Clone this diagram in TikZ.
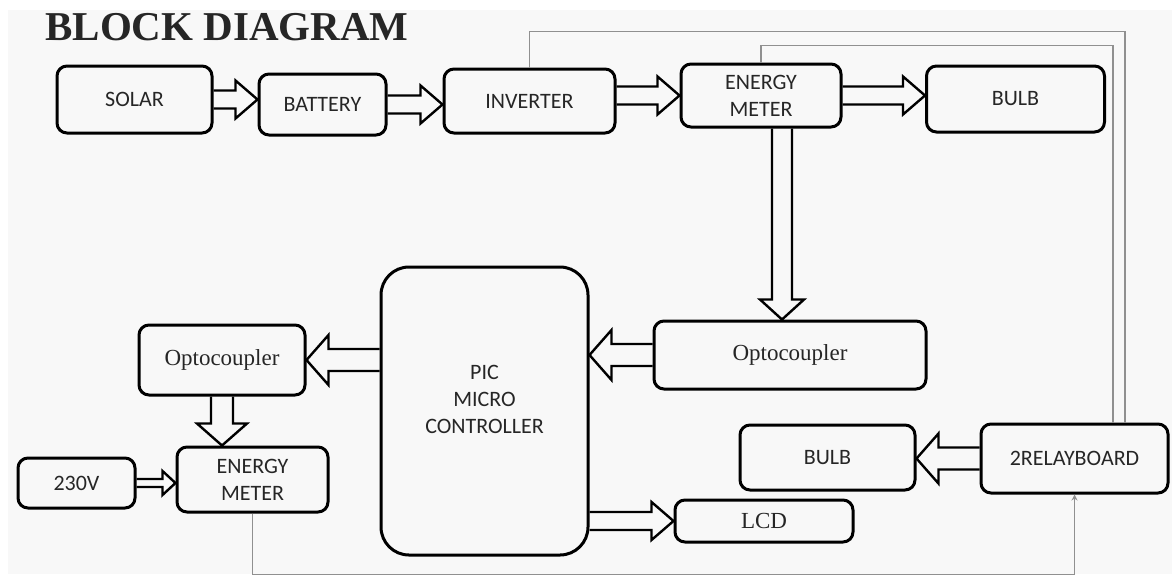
\documentclass[tikz,border=0pt]{standalone}
\usepackage{fontspec}
\setmainfont{Liberation Serif}
\newfontfamily\boxfont{Carlito}
\usepackage{tikz}
\usetikzlibrary{arrows.meta, calc}
\definecolor{paper}{HTML}{F8F8F8}
\definecolor{wire}{HTML}{909090}

\begin{document}
\begin{tikzpicture}[
  x=0.5pt, y=-0.5pt,
  every node/.style={text=black!85},
  blk/.style={draw, line width=1.5pt, rounded corners=5pt, inner sep=0pt, align=center,
    font=\boxfont\fontsize{11}{13.5}\selectfont},
  serif/.style={font=\fontsize{11.5}{13.5}\selectfont},
  hollow/.style args={#1/#2/#3}{line width=1.2pt, line join=miter, to path={
    let \p1=(\tikztostart), \p2=(\tikztotarget),
        \n1={veclen(\x2-\x1,\y2-\y1)}, \n2={atan2(\y2-\y1,\x2-\x1)} in
    {[shift={(\p1)}, rotate=\n2]
      (0pt,#1) -- (\n1*1pt-#3,#1) -- (\n1*1pt-#3,#2) -- (\n1*1pt,0pt)
      -- (\n1*1pt-#3,-#2) -- (\n1*1pt-#3,-#1) -- (0pt,-#1)}
  }},
  toparr/.style={hollow=4.5pt/9.5pt/11pt},
  bigarr/.style={hollow=5.5pt/12.5pt/11pt},
  smallarr/.style={hollow=2pt/6pt/6.5pt},
  wire/.style={draw=wire, line width=0.7pt},
]

 % ---- page ----
 \useasboundingbox (0,0) rectangle (1172,574);
 \fill[white] (0,0) rectangle (1172,574);
 \fill[paper] (8,10) rectangle (1172,574);

 \node[anchor=base west, inner sep=0pt, font=\bfseries\fontsize{20.5}{24}\selectfont] (title) at (45,40) {BLOCK DIAGRAM};

 % ---- top row: solar supply ----
 \node[blk, minimum width=77.5pt, minimum height=33.5pt] (solar) at (134.5,99.5) {SOLAR};
 \node[blk, minimum width=63.5pt, minimum height=30.5pt] (battery) at (322.5,104.5) {BATTERY};
 \node[blk, minimum width=85.5pt, minimum height=32pt] (inverter) at (529.5,101) {INVERTER};
 \node[blk, minimum width=80pt, minimum height=31.5pt] (emtop) at (761,95.5) {ENERGY\\METER};
 \node[blk, minimum width=89pt, minimum height=33pt] (bulbtop) at (1015.5,99) {BULB};

 % ---- controller and its neighbours ----
 \node[blk, rounded corners=14pt, minimum width=103.5pt, minimum height=144pt,
   label={[align=center, yshift=6pt, font=\boxfont\fontsize{11}{13.5}\selectfont]center:PIC\\MICRO\\CONTROLLER}] (pic) at (484.5,411) {};
 \node[blk, serif, minimum width=136pt, minimum height=34pt] (optoR) at (790,355) {Optocoupler};
 \node[blk, serif, minimum width=83pt, minimum height=35pt] (optoL) at (222,360) {Optocoupler};
 \node[blk, minimum width=75.5pt, minimum height=32.5pt] (embot) at (252.5,479.5) {ENERGY\\METER};
 \node[blk, minimum width=58.5pt, minimum height=25pt] (v230) at (76.5,483) {230V};
 \node[blk, minimum width=87.5pt, minimum height=32.5pt] (bulbbot) at (827.5,457.5) {BULB};
 \node[blk, minimum width=93.5pt, minimum height=34.5pt] (relay) at (1074.5,458.5) {2RELAYBOARD};
 \node[blk, serif, minimum width=89pt, minimum height=21pt] (lcd) at (764,521) {LCD};

 % ---- hollow arrows ----
 \draw[toparr] (solar.east) to (solar.east -| battery.west);
 \draw[toparr] (battery.east) to (battery.east -| inverter.west);
 \draw[toparr] (emtop.west -| inverter.east) to (emtop.west);
 \draw[toparr] (emtop.east) to (emtop.east -| bulbtop.west);
 \draw[hollow=5pt/11pt/10pt] ([xshift=-4pt]emtop.south -| optoR.north) to ([xshift=-4pt]optoR.north);
 \draw[bigarr] (optoR.west) to (optoR.west -| pic.east);
 \draw[bigarr] (optoL.east -| pic.west) to (optoL.east);
 \draw[bigarr] (optoL.south) to (optoL.south |- embot.north);
 \draw[smallarr] (v230.east) to (v230.east -| embot.west);
 \draw[bigarr] (relay.west) to (relay.west -| bulbbot.east);
 \draw[toparr] (lcd.west -| pic.east) to (lcd.west);

 % ---- thin wires to the relay board ----
 \draw[wire] (inverter.north) -- ++(0,-36) -| ([xshift=25.25pt]relay.north);
 \draw[wire] (emtop.north) -- ++(0,-17) -| ([xshift=19.25pt]relay.north);
 \draw[wire, -{Stealth[length=3pt, width=3pt]}] (embot.south) -- ++(0,61) -| (relay.south);

\end{tikzpicture}
\end{document}
